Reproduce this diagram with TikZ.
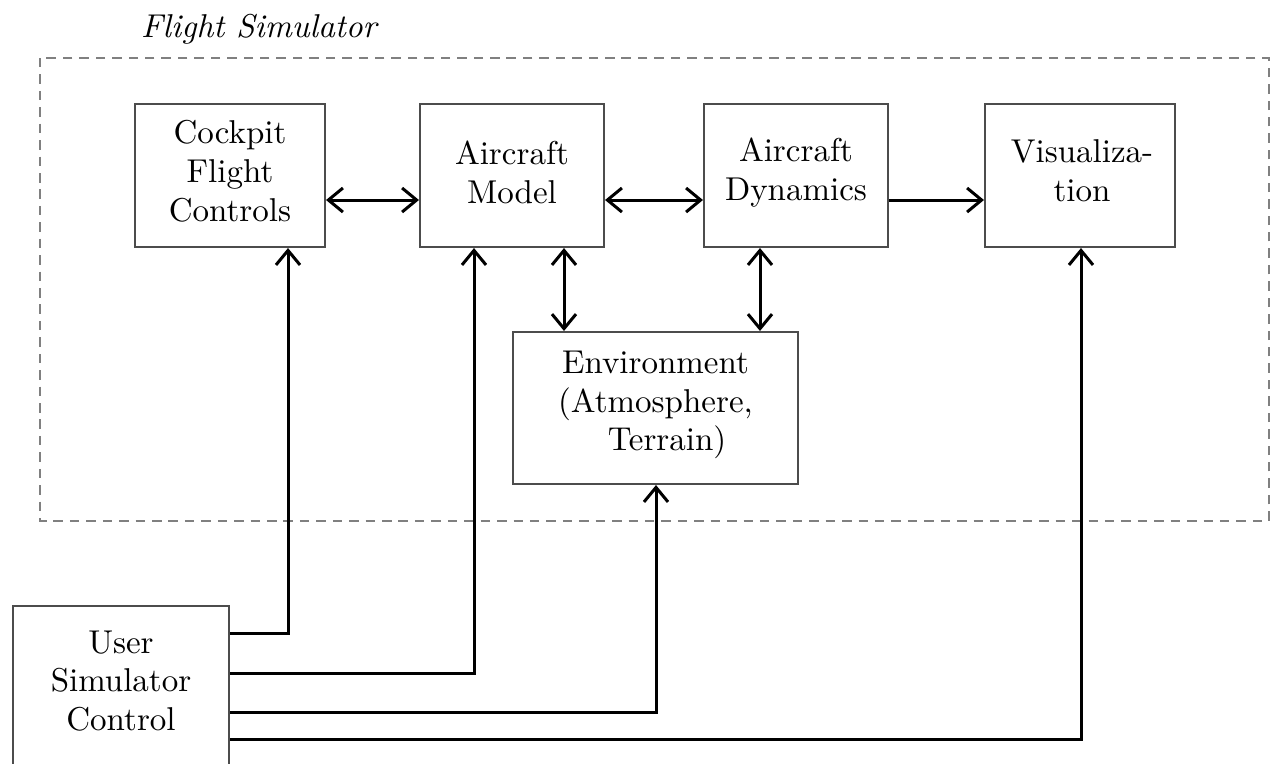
\documentclass[tikz,border=0pt]{standalone}
\usetikzlibrary{arrows.meta}
\begin{document}
\begin{tikzpicture}[x=0.3165pt,y=-0.3165pt,
  font=\fontsize{10.45pt}{12.3pt}\selectfont,
  blk/.style={draw=black!70,line width=0.65pt,inner sep=0pt},
  txt/.style={align=center,inner sep=0pt},
  link/.style={line width=0.95pt,black},
  tip/.style={-{Straight Barb[length=4.6pt,width=7.6pt,line width=0.95pt]}},
  bitip/.style={{Straight Barb[length=4.6pt,width=7.6pt,line width=0.95pt]}-{Straight Barb[length=4.6pt,width=7.6pt,line width=0.95pt]}}]
\clip (0,0) rectangle (1277,763);
\fill[white] (0,0) rectangle (1277,763);
% frame
\draw[black!50,line width=0.65pt,dash pattern=on 3pt off 2.2pt] (40,58) rectangle (1269,521);
\node[anchor=west,font=\fontsize{10.45pt}{12.3pt}\selectfont\itshape] (title) at (130,29) {Flight Simulator};
% blocks
\node[blk,minimum width=190*0.3165pt,minimum height=143*0.3165pt] (cockpit) at (230,175.5) {};
\node[blk,minimum width=184*0.3165pt,minimum height=143*0.3165pt] (model) at (512,175.5) {};
\node[blk,minimum width=184*0.3165pt,minimum height=143*0.3165pt] (dyn) at (796,175.5) {};
\node[blk,minimum width=190*0.3165pt,minimum height=143*0.3165pt] (vis) at (1080,175.5) {};
\node[blk,minimum width=285*0.3165pt,minimum height=152*0.3165pt] (env) at (655.5,408) {};
\node[blk,minimum width=216*0.3165pt,minimum height=200*0.3165pt] (user) at (121,706) {};
% block texts
\node[txt] (cockpit-t) at (230,171.5) {Cockpit\\Flight\\Controls};
\node[txt] (model-t) at (512,172.5) {Aircraft\\Model};
\node[txt] (dyn-t) at (796,172.5) {Aircraft\\Dynamics};
\node[txt] (vis-t) at (1082,170.5) {Visualiza-\\tion};
\node[txt] (env-t) at (655.5,405) {Environment\\(Atmosphere,\\\hspace*{0.7em}Terrain)};
\node[txt] (user-t) at (121,681) {User\\Simulator\\Control};
% helper coordinates
\coordinate (r) at (0,200);
\coordinate (xa) at (564,0);
\coordinate (xb) at (760,0);
\coordinate (u1) at (0,633);
\coordinate (u2) at (0,673);
\coordinate (u3) at (0,712);
\coordinate (u4) at (0,739);
\coordinate (c1) at (288,0);
\coordinate (c2) at (474,0);
\coordinate (c3) at (656,0);
\coordinate (c4) at (1081,0);
% connectors
\draw[link,bitip] (cockpit.east |- r) -- (model.west |- r);
\draw[link,bitip] (model.east |- r) -- (dyn.west |- r);
\draw[link,tip] (dyn.east |- r) -- (vis.west |- r);
\draw[link,bitip] (model.south -| xa) -- (env.north -| xa);
\draw[link,bitip] (dyn.south -| xb) -- (env.north -| xb);
\draw[link,tip] (user.east |- u1) -| (cockpit.south -| c1);
\draw[link,tip] (user.east |- u2) -| (model.south -| c2);
\draw[link,tip] (user.east |- u3) -| (env.south -| c3);
\draw[link,tip] (user.east |- u4) -| (vis.south -| c4);
\end{tikzpicture}
\end{document}
